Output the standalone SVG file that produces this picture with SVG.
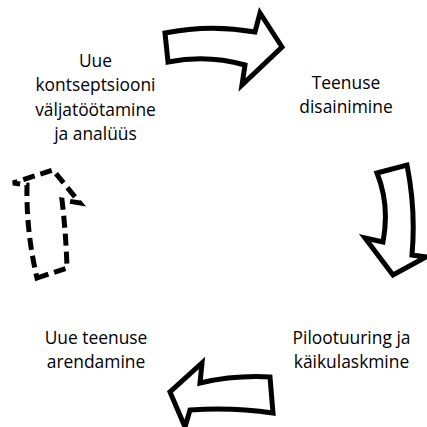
<svg xmlns="http://www.w3.org/2000/svg" width="427" height="427" viewBox="0 0 427 427">
<style>
.lbl{font-family:"Open Sans","Liberation Sans",sans-serif;font-size:17.4px;fill:#000;text-anchor:middle}
.arr{fill:#fff;stroke:#000;stroke-width:5;stroke-linejoin:miter}
.dash{stroke-dasharray:12 6}
</style>
<rect width="427" height="427" fill="#fff"/>
<g id="connectors">
<path id="arrow-top" class="arr" d="M165,33 Q210,24 255,32 L260,13 L282,47 L242,85 L245,65 Q207,54 168,62 Z"/>
<path id="arrow-right" class="arr" d="M377,173 L407,165 Q416,210 412,255 L426,257 L393,275 L365,238 L383,242 Q390,205 377,173 Z"/>
<path id="arrow-bottom" class="arr" d="M202,363 L200,383 Q235,375 270,377 L273,413 Q232,407 190,410 L185,427 L170,392 Z"/>
<path id="arrow-left" class="arr dash" d="M37,278 L67,268 Q66,234 62,200 L80,203 L53,170 L13,183 L27,185 Q26,231 37,278 Z"/>
</g>
<g id="node-concept">
<text class="lbl" x="95.5" y="67">Uue</text>
<text class="lbl" x="95.5" y="91">kontseptsiooni</text>
<text class="lbl" x="95.5" y="115.5">väljatöötamine</text>
<text class="lbl" x="95.5" y="140">ja analüüs</text>
</g>
<g id="node-design">
<text class="lbl" x="346" y="89">Teenuse</text>
<text class="lbl" x="346" y="113">disainimine</text>
</g>
<g id="node-pilot">
<text class="lbl" x="351.5" y="344">Pilootuuring ja</text>
<text class="lbl" x="351.5" y="368">käikulaskmine</text>
</g>
<g id="node-develop">
<text class="lbl" x="96" y="344">Uue teenuse</text>
<text class="lbl" x="96" y="368">arendamine</text>
</g>
</svg>
